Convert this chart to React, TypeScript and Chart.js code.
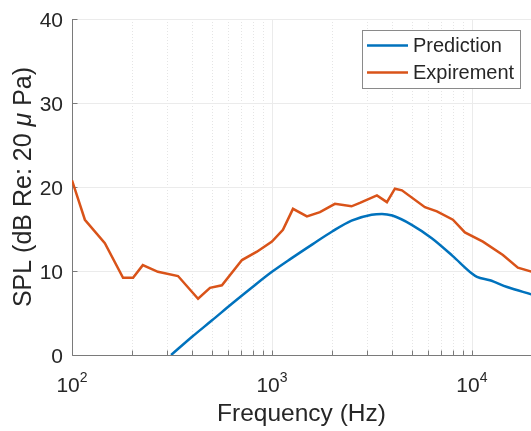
import React, { useEffect, useRef } from 'react';
import { Chart, registerables } from 'chart.js';

Chart.register(...registerables);

// ---- Data ----
const predictionFreq = [313, 400, 500, 630, 800, 1000, 1250, 1600, 2000, 2500, 3150, 3550, 4000, 5000, 6300, 8000, 10000, 10600, 12300, 15000, 20000];
const predictionSpl = [0, 2.2, 4.1, 6.1, 8.1, 9.9, 11.5, 13.2, 14.7, 16.0, 16.7, 16.8, 16.6, 15.5, 13.9, 11.8, 9.7, 9.3, 8.9, 8.1, 7.2];

const experimentFreq = [100, 116, 146, 180, 202, 226, 269, 339, 427, 490, 562, 708, 841, 1000, 1135, 1274, 1496, 1738, 2065, 2500, 2754, 3350, 3758, 4121, 4467, 5821, 6683, 8035, 9226, 11350, 14290, 16980, 20000];
const experimentSpl = [20.8, 16.1, 13.3, 9.2, 9.2, 10.7, 9.9, 9.4, 6.7, 8.0, 8.3, 11.3, 12.3, 13.5, 14.9, 17.4, 16.5, 17.0, 18.0, 17.7, 18.1, 19.0, 18.2, 19.8, 19.6, 17.6, 17.1, 16.1, 14.6, 13.5, 11.9, 10.4, 9.9];

const seriesLabels = ['Prediction', 'Expirement'];
const seriesColors = ['#0072BD', '#D95319'];

const xMajorTicks = [100, 1000, 10000];
const xTickExponents = ['2', '3', '4'];
const xMinorTicks = [200, 300, 400, 500, 600, 700, 800, 900, 2000, 3000, 4000, 5000, 6000, 7000, 8000, 9000, 20000];
const yTicks = [0, 10, 20, 30, 40];

const xTitle = 'Frequency (Hz)';
const yTitleParts = [
  { text: 'SPL (dB Re: 20 ', italic: false },
  { text: 'μ', italic: true },
  { text: ' Pa)', italic: false },
];

const FONT = '"Liberation Sans", Arial, Helvetica, sans-serif';
const TEXT = '#262626';

const matlabPlugin = {
  id: 'matlabPlugin',
  beforeDatasetsDraw(chart: any) {
    const { ctx, chartArea: a, scales } = chart;
    const x = scales.x;
    const y = scales.y;
    ctx.save();
    ctx.lineWidth = 1;
    // minor vertical grid (dotted)
    ctx.setLineDash([1, 2]);
    ctx.strokeStyle = 'rgba(0,0,0,0.10)';
    for (const v of xMinorTicks) {
      const px = Math.round(x.getPixelForValue(v)) + 0.5;
      if (px < a.left || px > a.right) continue;
      ctx.beginPath();
      ctx.moveTo(px, a.top);
      ctx.lineTo(px, a.bottom);
      ctx.stroke();
    }
    // major grid
    ctx.setLineDash([]);
    ctx.strokeStyle = '#ebebeb';
    for (const v of xMajorTicks) {
      const px = Math.round(x.getPixelForValue(v)) + 0.5;
      if (px <= a.left + 1 || px > a.right) continue;
      ctx.beginPath();
      ctx.moveTo(px, a.top);
      ctx.lineTo(px, a.bottom);
      ctx.stroke();
    }
    for (const v of yTicks) {
      const py = Math.round(y.getPixelForValue(v)) + 0.5;
      if (py >= a.bottom - 1) continue;
      ctx.beginPath();
      ctx.moveTo(a.left, py);
      ctx.lineTo(a.right, py);
      ctx.stroke();
    }
    // axis lines
    ctx.strokeStyle = '#7a7a7a';
    const left = Math.round(a.left) + 0.5;
    const bottom = Math.round(a.bottom) + 0.5;
    ctx.beginPath();
    ctx.moveTo(left, a.top);
    ctx.lineTo(left, bottom);
    ctx.lineTo(a.right, bottom);
    ctx.stroke();
    // tick marks (inward)
    const tl = 5;
    for (const v of [...xMajorTicks, ...xMinorTicks]) {
      const px = Math.round(x.getPixelForValue(v)) + 0.5;
      if (px > a.right) continue;
      ctx.beginPath();
      ctx.moveTo(px, bottom);
      ctx.lineTo(px, bottom - tl);
      ctx.stroke();
    }
    for (const v of yTicks) {
      const py = Math.round(y.getPixelForValue(v)) + 0.5;
      ctx.beginPath();
      ctx.moveTo(left, py);
      ctx.lineTo(left + tl, py);
      ctx.stroke();
    }
    ctx.restore();
  },
  afterDraw(chart: any) {
    const { ctx, chartArea: a, scales } = chart;
    const x = scales.x;
    const y = scales.y;
    ctx.save();
    ctx.fillStyle = TEXT;
    // y tick labels
    ctx.font = `21px ${FONT}`;
    ctx.textAlign = 'right';
    ctx.textBaseline = 'alphabetic';
    for (const v of yTicks) {
      const py = y.getPixelForValue(v);
      ctx.fillText(String(v), a.left - 9, py + 7.5);
    }
    // x tick labels with superscripts
    ctx.textAlign = 'left';
    xMajorTicks.forEach((v, i) => {
      const px = x.getPixelForValue(v);
      ctx.font = `21px ${FONT}`;
      const wBase = ctx.measureText('10').width;
      ctx.font = `14px ${FONT}`;
      const wExp = ctx.measureText(xTickExponents[i]).width;
      const start = px - (wBase + wExp) / 2;
      ctx.font = `21px ${FONT}`;
      ctx.fillText('10', start, 392);
      ctx.font = `14px ${FONT}`;
      ctx.fillText(xTickExponents[i], start + wBase, 382);
    });
    // x title
    ctx.font = `24.5px ${FONT}`;
    ctx.textAlign = 'center';
    ctx.fillText(xTitle, (a.left + a.right) / 2, 421);
    // y title (rotated, with italic mu)
    ctx.save();
    ctx.translate(31, (a.top + a.bottom) / 2);
    ctx.rotate(-Math.PI / 2);
    ctx.textAlign = 'left';
    let total = 0;
    const widths = yTitleParts.map((p) => {
      ctx.font = `${p.italic ? 'italic ' : ''}25px ${FONT}`;
      const w = ctx.measureText(p.text).width;
      total += w;
      return w;
    });
    let cx = -total / 2;
    yTitleParts.forEach((p, i) => {
      ctx.font = `${p.italic ? 'italic ' : ''}25px ${FONT}`;
      ctx.fillText(p.text, cx, 0);
      cx += widths[i];
    });
    ctx.restore();
    // legend
    const bx = 362.5, by = 30.5, bw = 158, bh = 58;
    ctx.fillStyle = '#ffffff';
    ctx.fillRect(bx, by, bw, bh);
    ctx.strokeStyle = '#8a8a8a';
    ctx.lineWidth = 1;
    ctx.strokeRect(bx, by, bw, bh);
    chart.data.datasets.forEach((ds: any, i: number) => {
      const ly = 45.5 + i * 27;
      ctx.strokeStyle = ds.borderColor;
      ctx.lineWidth = 2.5;
      ctx.beginPath();
      ctx.moveTo(367, ly);
      ctx.lineTo(408, ly);
      ctx.stroke();
      ctx.fillStyle = TEXT;
      ctx.font = `20px ${FONT}`;
      ctx.textAlign = 'left';
      ctx.textBaseline = 'middle';
      ctx.fillText(ds.label, 413, ly + 1);
    });
    ctx.restore();
  },
};

export default function App() {
  const canvasRef = useRef<HTMLCanvasElement | null>(null);

  useEffect(() => {
    const canvas = canvasRef.current;
    if (!canvas) return;
    const chart = new Chart(canvas, {
      type: 'line',
      data: {
        datasets: [
          {
            label: seriesLabels[0],
            data: predictionFreq.map((f, i) => ({ x: f, y: predictionSpl[i] })),
            borderColor: seriesColors[0],
            backgroundColor: seriesColors[0],
            borderWidth: 2.5,
            pointRadius: 0,
            cubicInterpolationMode: 'monotone',
          },
          {
            label: seriesLabels[1],
            data: experimentFreq.map((f, i) => ({ x: f, y: experimentSpl[i] })),
            borderColor: seriesColors[1],
            backgroundColor: seriesColors[1],
            borderWidth: 2.5,
            pointRadius: 0,
            tension: 0,
          },
        ],
      },
      options: {
        responsive: false,
        animation: false,
        layout: { padding: { left: 0, top: 19, right: 0, bottom: 0 } },
        plugins: {
          legend: { display: false },
          tooltip: { enabled: false },
        },
        scales: {
          x: {
            type: 'logarithmic',
            min: 100,
            max: 19750,
            grid: { display: false },
            border: { display: false },
            ticks: { display: false },
            afterFit: (s: any) => {
              s.height = 76;
            },
          },
          y: {
            type: 'linear',
            min: 0,
            max: 40,
            grid: { display: false },
            border: { display: false },
            ticks: { display: false },
            afterFit: (s: any) => {
              s.width = 72;
            },
          },
        },
      },
      plugins: [matlabPlugin],
    } as any);
    return () => chart.destroy();
  }, []);

  return (
    <div style={{ position: 'fixed', left: 0, top: 0, width: 531, height: 431, background: '#fff' }}>
      <canvas ref={canvasRef} width={531} height={431} style={{ display: 'block' }} />
    </div>
  );
}
